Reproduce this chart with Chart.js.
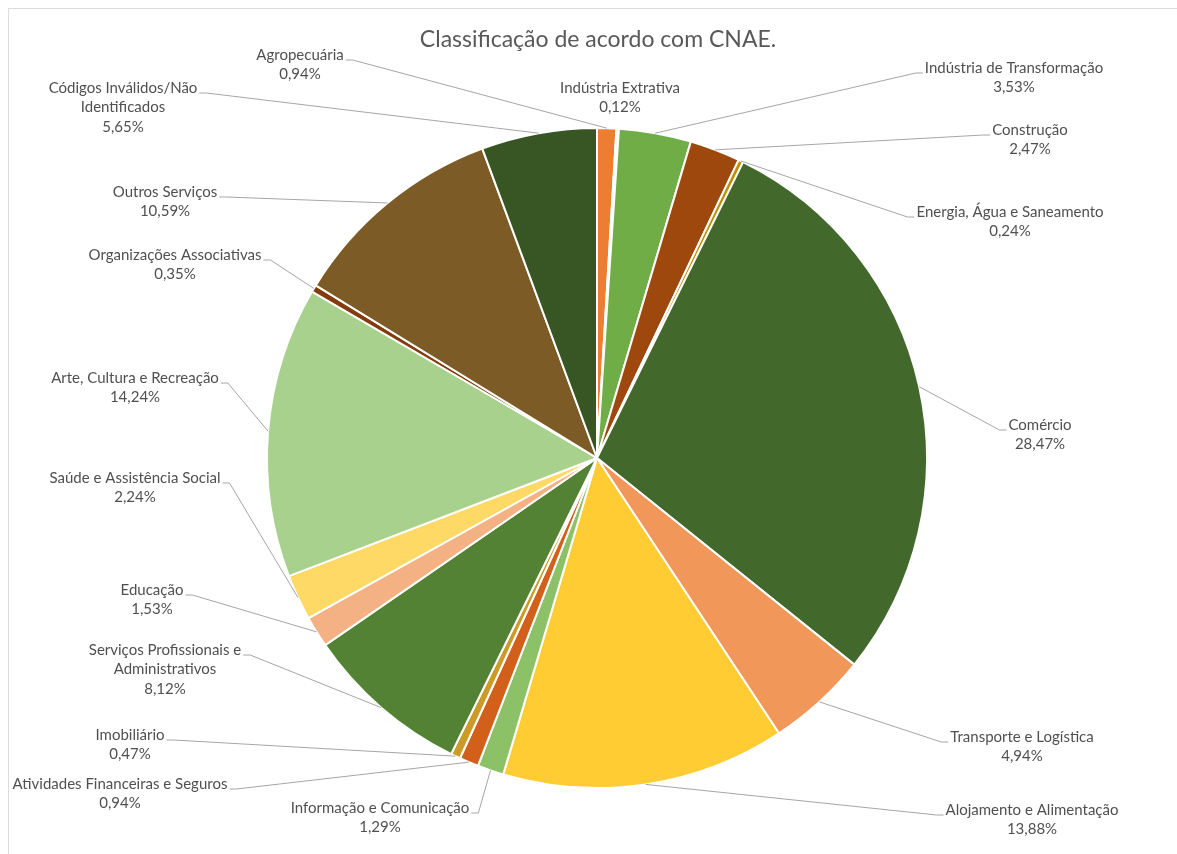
<!DOCTYPE html>
<html>
<head>
<meta charset="utf-8">
<script src="https://cdn.jsdelivr.net/npm/chart.js@4.4.1/dist/chart.umd.min.js"></script>
<style>
    html, body { margin: 0; padding: 0; background: #fff; }
    #wrap { position: relative; width: 1177px; height: 854px; overflow: hidden; }
    #frame { position: absolute; left: 8px; top: 8px; width: 1200px; height: 900px;
             border-left: 1px solid #dcdcdc; border-top: 1px solid #dcdcdc; }
    canvas { position: absolute; left: 0; top: 0; }
</style>
</head>
<body>
<div id="wrap">
    <div id="frame"></div>
    <canvas id="cnaeChart" width="1177" height="854"></canvas>
</div>
<script>
// Data (clockwise from 12 o'clock)
const categories = [
    'Agropecuária',
    'Indústria Extrativa',
    'Indústria de Transformação',
    'Construção',
    'Energia, Água e Saneamento',
    'Comércio',
    'Transporte e Logística',
    'Alojamento e Alimentação',
    'Informação e Comunicação',
    'Atividades Financeiras e Seguros',
    'Imobiliário',
    ['Serviços Profissionais e', 'Administrativos'],
    'Educação',
    'Saúde e Assistência Social',
    'Arte, Cultura e Recreação',
    'Organizações Associativas',
    'Outros Serviços',
    ['Códigos Inválidos/Não', 'Identificados']
];
const shares = [0.94, 0.12, 3.53, 2.47, 0.24, 28.47, 4.94, 13.88, 1.29, 0.94, 0.47, 8.12, 1.53, 2.24, 14.24, 0.35, 10.59, 5.65];
const sliceColors = [
    '#ED7D31', '#E4E4E4', '#70AD47', '#9E480E', '#BF9000', '#43682B',
    '#F1975A', '#FFCD33', '#8CC168', '#D2601A', '#CC9A26', '#548235',
    '#F4B183', '#FFD966', '#A9D18E', '#843C0C', '#7C5B27', '#375623'
];

// Where each data label sits (center x, first line y, side the leader line attaches)
const labelLayout = [
    { x: 300, y: 55, side: 'right' },
    { x: 620, y: 88, side: 'none' },
    { x: 1014, y: 68, side: 'left' },
    { x: 1030, y: 130, side: 'left' },
    { x: 1010, y: 212, side: 'left' },
    { x: 1040, y: 425, side: 'left' },
    { x: 1022, y: 737, side: 'left' },
    { x: 1032, y: 810, side: 'left' },
    { x: 380, y: 808, side: 'right' },
    { x: 120, y: 784, side: 'right' },
    { x: 130, y: 735, side: 'right' },
    { x: 165, y: 650, side: 'right' },
    { x: 152, y: 590, side: 'right' },
    { x: 135, y: 478, side: 'right' },
    { x: 135, y: 378, side: 'right' },
    { x: 175, y: 255, side: 'right' },
    { x: 165, y: 192, side: 'right' },
    { x: 123, y: 88, side: 'right' }
];

function formatShare(v) {
    return v.toFixed(2).replace('.', ',') + '%';
}

// Title, data labels and leader lines
const labelPlugin = {
    id: 'pieLabels',
    afterDraw(chart) {
        const ctx = chart.ctx;
        const meta = chart.getDatasetMeta(0);
        const lineH = 19.5;

        ctx.save();
        ctx.fillStyle = '#595959';
        ctx.font = '23px Lato';
        ctx.textAlign = 'center';
        ctx.textBaseline = 'middle';
        ctx.fillText('Classificação de acordo com CNAE.', 598, 40);

        ctx.font = '15px Lato';
        meta.data.forEach((arc, i) => {
            const lay = labelLayout[i];
            const name = chart.data.labels[i];
            const lines = (Array.isArray(name) ? name.slice() : [name]);
            lines.push(formatShare(chart.data.datasets[0].data[i]));

            // leader line from slice edge (mid angle) to the label
            if (lay.side !== 'none') {
                const mid = (arc.startAngle + arc.endAngle) / 2;
                const px = arc.x + Math.cos(mid) * arc.outerRadius;
                const py = arc.y + Math.sin(mid) * arc.outerRadius;
                const w = ctx.measureText(lines[0]).width;
                const ay = lay.y + 5;
                let ax, bx;
                if (lay.side === 'left') {
                    ax = lay.x - w / 2 - 2;
                    bx = ax - 7;
                } else {
                    ax = lay.x + w / 2 + 2;
                    bx = ax + 7;
                }
                ctx.strokeStyle = '#A6A6A6';
                ctx.lineWidth = 1;
                ctx.beginPath();
                ctx.moveTo(px, py);
                ctx.lineTo(bx, ay);
                ctx.lineTo(ax, ay);
                ctx.stroke();
            }

            ctx.fillStyle = '#505050';
            lines.forEach((t, k) => {
                ctx.fillText(t, lay.x, lay.y + k * lineH);
            });
        });
        ctx.restore();
    }
};

const chartCtx = document.getElementById('cnaeChart').getContext('2d');
const cnaeChart = new Chart(chartCtx, {
    type: 'pie',
    data: {
        labels: categories,
        datasets: [{
            data: shares,
            backgroundColor: sliceColors,
            borderColor: '#ffffff',
            borderWidth: 2
        }]
    },
    options: {
        responsive: false,
        animation: false,
        layout: {
            padding: { left: 266, right: 249, top: 127, bottom: 65 }
        },
        plugins: {
            legend: { display: false },
            tooltip: { enabled: false },
            title: { display: false }
        }
    },
    plugins: [labelPlugin]
});
</script>
</body>
</html>
